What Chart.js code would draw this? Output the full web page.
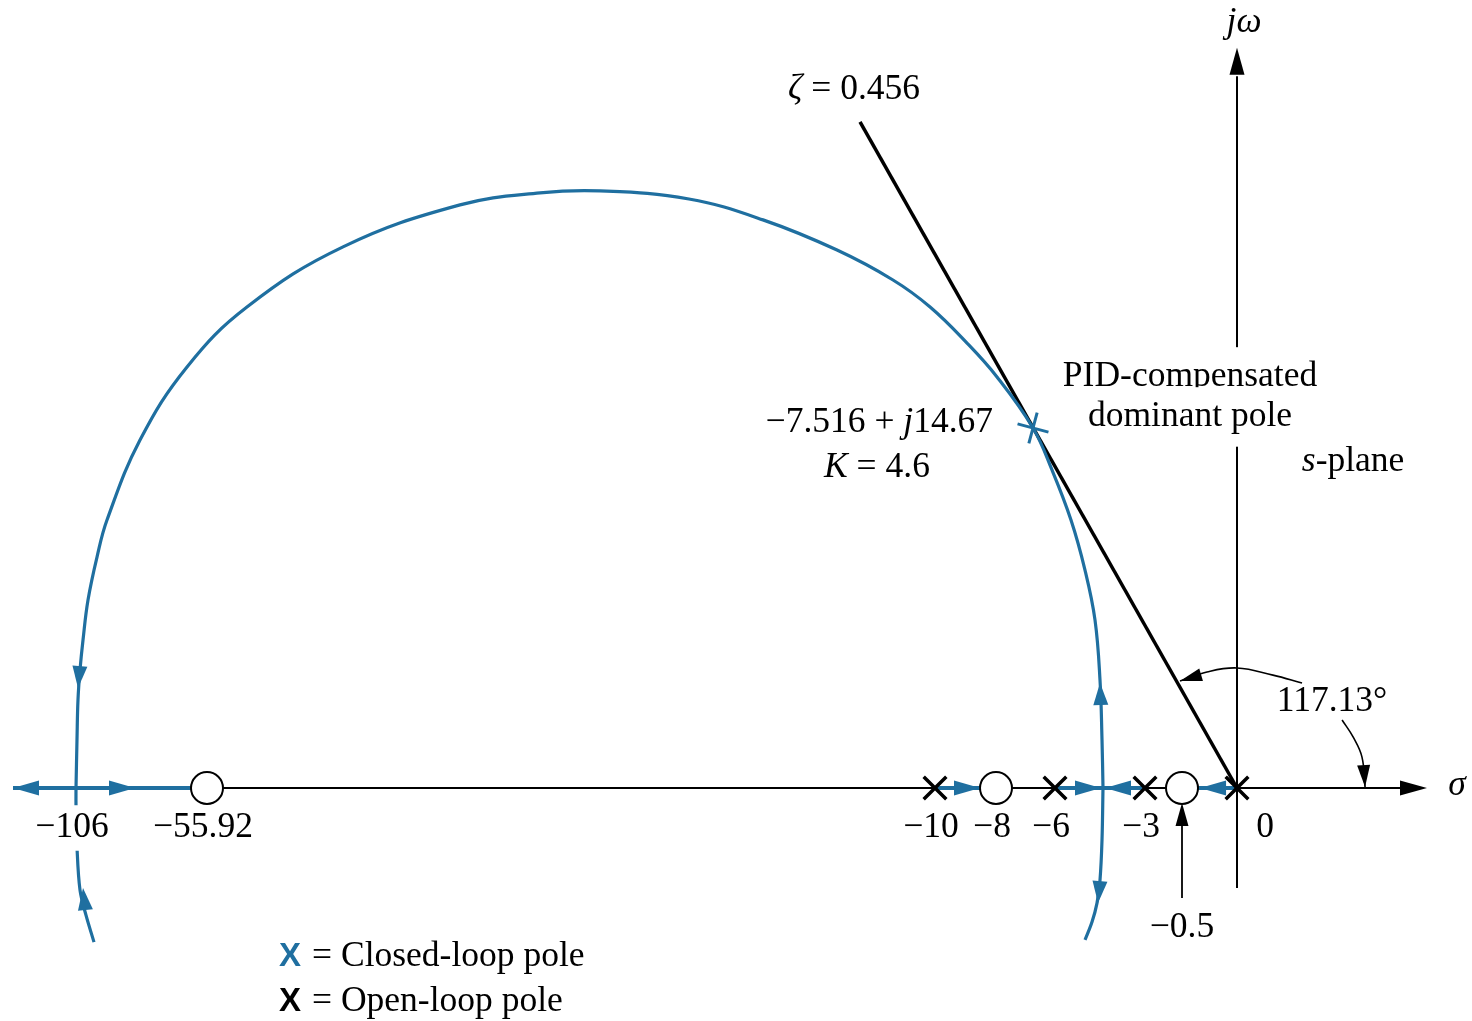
<!DOCTYPE html>
<html>
<head>
<meta charset="utf-8">
<title>PID-compensated root locus</title>
<script src="https://cdn.jsdelivr.net/npm/chart.js@4.4.1/dist/chart.umd.min.js"></script>
<style>
  html, body { margin: 0; padding: 0; background: #fff; }
  #wrap { width: 1472px; height: 1021px; }
</style>
</head>
<body>
<div id="wrap"><canvas id="locus"></canvas></div>
<script>
// s-plane data, [sigma, omega]
const openLoopPoles = [-10, -6, -3, 0];
const openLoopZeros = [-55.92, -8, -0.5];
const closedLoopPole = [-7.516, 14.67];

// branches of the locus
const locusUpper = [
  [-106, 0], [-105.62, 1.96], [-105.24, 3.59], [-104.47, 4.81], [-103.32, 6.03],
  [-101.41, 7.66], [-97.97, 9.41], [-94.15, 10.92], [-81.53, 14.18], [-63.56, 17.16],
  [-53.40, 19.60], [-47.34, 22.05], [-39.96, 23.76], [-34.91, 24.25], [-31.13, 24.33],
  [-25.52, 24.00], [-20.85, 23.15], [-16.18, 21.92], [-12.65, 20.70], [-10.31, 19.60],
  [-8.95, 18.13], [-7.987, 16.75], [-7.516, 14.67], [-6.207, 12.96], [-5.467, 10.92],
  [-5.0, 8.88], [-4.667, 6.85], [-4.5, 4.40], [-4.433, 1.96], [-4.4, 0]
];
const locusLowerLeft = [[-106, 0], [-106, -0.69], [-105.62, -2.40], [-104.47, -4.16], [-102.18, -5.18], [-99.12, -6.28]];
const locusLowerRight = [[-4.4, 0], [-4.433, -2.12], [-4.5, -3.75], [-4.6, -4.69], [-4.767, -5.46], [-5.0, -6.19]];
const realAxisLocus = [[-130.08, -55.92], [-10, -8], [-6, -3], [-0.5, 0]];
const zetaLine = [[0, 0], [-14.73, 27.14]];

// direction arrows: [tipSigma, tipOmega, fromSigma, fromOmega]
const locusArrows = [
  [-130.08, 0, -120, 0], [-83.44, 0, -100, 0], [-8.524, 0, -10, 0],
  [-4.467, 0, -6, 0], [-4.333, 0, -3, 0], [-0.336, 0, 0, 0],
  [-105.24, 4.07, -104.47, 5.0], [-103.32, -4.08, -102.18, -5.18],
  [-4.5, 4.28, -4.467, 3.18], [-4.567, -4.69, -4.467, -3.34]
];

const tickValues = [-106, -55.92, -10, -8, -6, -3, 0];
const tickLabels = ['−106', '−55.92', '−10', '−8', '−6', '−3', '0'];

// angle marks and the -0.5 pointer
const angleArc = [[-0.635, 4.36], [-0.273, 4.73], [0, 4.89], [0.327, 4.60], [0.591, 4.28]];
const angleArc2 = [[0.955, 2.77], [1.055, 2.08], [1.136, 1.26], [1.164, 0.04]];
const pointer = [[-0.5, -4.48], [-0.5, -0.8]];

const BLUE = '#1f6fa0';
const SERIF = '"Liberation Serif", "Times New Roman", serif';
const FONT_PX = 35.5;

// the figure's real axis is not to scale: piecewise linear between these values
const SIGMA_KNOTS = [-135.05, -106, -55.92, -10, -8, -7.516, -6, -3, -0.5, 0, 2.136];
const KNOT_FRAC = [0, 76, 207, 935, 996, 1033, 1055, 1145, 1182, 1237, 1472].map(p => p / 1472);

class SchematicScale extends Chart.LinearScale {
  getPixelForValue(v) {
    const k = SIGMA_KNOTS, f = KNOT_FRAC;
    let i = 0;
    while (i < k.length - 2 && v > k[i + 1]) i++;
    const t = (v - k[i]) / (k[i + 1] - k[i]);
    return this.left + (f[i] + t * (f[i + 1] - f[i])) * this.width;
  }
  getValueForPixel(p) {
    const k = SIGMA_KNOTS, f = KNOT_FRAC;
    const d = (p - this.left) / this.width;
    let i = 0;
    while (i < f.length - 2 && d > f[i + 1]) i++;
    return k[i] + (d - f[i]) / (f[i + 1] - f[i]) * (k[i + 1] - k[i]);
  }
}
SchematicScale.id = 'schematic';
SchematicScale.defaults = Chart.LinearScale.defaults;
Chart.register(SchematicScale);

const pt = p => ({x: p[0], y: p[1]});
const line = (pts, color, width, extra) => Object.assign({
  data: pts.map(pt), showLine: true, borderColor: color, borderWidth: width,
  pointRadius: 0, tension: 0, clip: false
}, extra || {});

// texts: runs of [text, italic]
const notes = [
  {at: [-19.27, 28.44], align: 'left', runs: [['ζ', 1], [' = 0.456', 0]]},
  {at: [0.064, 31.2], runs: [['jω', 1]]},
  {at: [-8.098, 14.87], align: 'right', runs: [['−7.516 + ', 0], ['j', 1], ['14.67', 0]]},
  {at: [-13.66, 13.04], runs: [['K', 1], [' = 4.6', 0]]},
  {at: [-0.427, 16.75], bg: [8, 12], runs: [['PID-compensated', 0]]},
  {at: [-0.427, 15.12], bg: [8, 12], runs: [['dominant pole', 0]]},
  {at: [1.055, 13.28], runs: [['s', 1], ['-plane', 0]]},
  {at: [0.864, 3.50], runs: [['117.13°', 0]]},
  {at: [2.0, 0.08], runs: [['σ', 1]]},
  {at: [-0.5, -5.68], runs: [['−0.5', 0]]}
];

function drawRuns(ctx, x, y, runs, align, size, bg) {
  const fonts = runs.map(r => (r[1] ? 'italic ' : '') + size + 'px ' + SERIF);
  const widths = runs.map((r, i) => { ctx.font = fonts[i]; return ctx.measureText(r[0]).width; });
  const total = widths.reduce((a, b) => a + b, 0);
  let left = align === 'left' ? x : align === 'right' ? x - total : x - total / 2;
  if (bg) {
    ctx.fillStyle = '#fff';
    ctx.fillRect(left - bg[0], y - size / 2 - bg[1], total + 2 * bg[0], size + 2 * bg[1]);
  }
  ctx.fillStyle = '#000';
  ctx.textAlign = 'left';
  ctx.textBaseline = 'middle';
  runs.forEach((r, i) => { ctx.font = fonts[i]; ctx.fillText(r[0], left, y); left += widths[i]; });
}

function head(ctx, tip, from, len, half, color) {
  const a = Math.atan2(tip[1] - from[1], tip[0] - from[0]);
  ctx.save();
  ctx.translate(tip[0], tip[1]);
  ctx.rotate(a);
  ctx.beginPath();
  ctx.moveTo(0, 0);
  ctx.lineTo(-len, -half);
  ctx.lineTo(-len, half);
  ctx.closePath();
  ctx.fillStyle = color;
  ctx.fill();
  ctx.restore();
}

const annotations = {
  id: 'annotations',
  afterDatasetsDraw(chart) {
    const ctx = chart.ctx, xs = chart.scales.x, ys = chart.scales.y;
    const px = (s, w) => [xs.getPixelForValue(s), ys.getPixelForValue(w)];
    ctx.save();

    locusArrows.forEach(a => {
      const onAxis = a[1] === 0;
      head(ctx, px(a[0], a[1]), px(a[2], a[3]), onAxis ? 26 : 22, 7.5, BLUE);
    });
    head(ctx, px(1.727, 0), px(1.0, 0), 27, 7.5, '#000');
    head(ctx, px(0, 30.16), px(0, 28), 27, 7.5, '#000');
    head(ctx, px(-0.5, -0.61), px(-0.5, -3), 23, 6.5, '#000');
    head(ctx, px(angleArc[0][0], angleArc[0][1]), px(-0.2, 4.78), 22, 6.5, '#000');
    head(ctx, px(angleArc2[3][0], angleArc2[3][1]), px(1.15, 1.0), 22, 6.5, '#000');

    tickValues.forEach((v, i) => {
      const p = px(v, -1.63);
      drawRuns(ctx, p[0] + (v === 0 ? 28 : -4), p[1], [[tickLabels[i], 0]], 'center', FONT_PX, [4, 5]);
    });
    notes.forEach(n => {
      const p = px(n.at[0], n.at[1]);
      drawRuns(ctx, p[0], p[1], n.runs, n.align || 'center', FONT_PX, n.bg);
    });

    // key
    const k1 = px(-50.68, -6.89), k2 = px(-50.68, -8.72);
    ctx.textAlign = 'center';
    ctx.textBaseline = 'middle';
    ctx.font = 'bold 33px "Liberation Sans", Arial, sans-serif';
    ctx.fillStyle = BLUE;
    ctx.fillText('X', k1[0], k1[1]);
    ctx.fillStyle = '#000';
    ctx.fillText('X', k2[0], k2[1]);
    drawRuns(ctx, k1[0] + 22, k1[1], [['= Closed-loop pole', 0]], 'left', FONT_PX);
    drawRuns(ctx, k2[0] + 22, k2[1], [['= Open-loop pole', 0]], 'left', FONT_PX);
    ctx.restore();
  }
};

const datasets = [
  {data: [pt(closedLoopPole)], pointStyle: 'cross', pointRotation: 15, pointRadius: 16,
   pointBorderWidth: 3, pointBorderColor: BLUE, clip: false},
  {data: openLoopPoles.map(s => ({x: s, y: 0})), pointStyle: 'crossRot', pointRadius: 16,
   pointBorderWidth: 3.5, pointBorderColor: '#000', clip: false},
  {data: openLoopZeros.map(s => ({x: s, y: 0})), pointStyle: 'circle', pointRadius: 16,
   pointBorderWidth: 2, pointBorderColor: '#000', pointBackgroundColor: '#fff', clip: false},
  ...realAxisLocus.map(seg => line([[seg[0], 0], [seg[1], 0]], BLUE, 4)),
  line(locusUpper, BLUE, 3.2, {tension: 0.4}),
  line(locusLowerLeft, BLUE, 3.2, {tension: 0.35}),
  line(locusLowerRight, BLUE, 3.2, {tension: 0.35}),
  line(zetaLine, '#000', 3.5),
  line(angleArc, '#000', 1.6, {tension: 0.4}),
  line(angleArc2, '#000', 1.6, {tension: 0.4}),
  line(pointer, '#000', 1.8),
  line([[0, -4.08], [0, 29]], '#000', 2),
  line([[-130.08, 0], [1.6, 0]], '#000', 2)
];

new Chart(document.getElementById('locus'), {
  type: 'scatter',
  data: {datasets: datasets},
  options: {
    responsive: true,
    maintainAspectRatio: false,
    animation: false,
    events: [],
    layout: {padding: 0, autoPadding: false},
    plugins: {legend: {display: false}, tooltip: {enabled: false}},
    scales: {
      x: {type: 'schematic', min: SIGMA_KNOTS[0], max: SIGMA_KNOTS[SIGMA_KNOTS.length - 1], display: false},
      y: {type: 'linear', min: -9.495, max: 32.11, display: false}
    }
  },
  plugins: [annotations]
});
</script>
</body>
</html>
